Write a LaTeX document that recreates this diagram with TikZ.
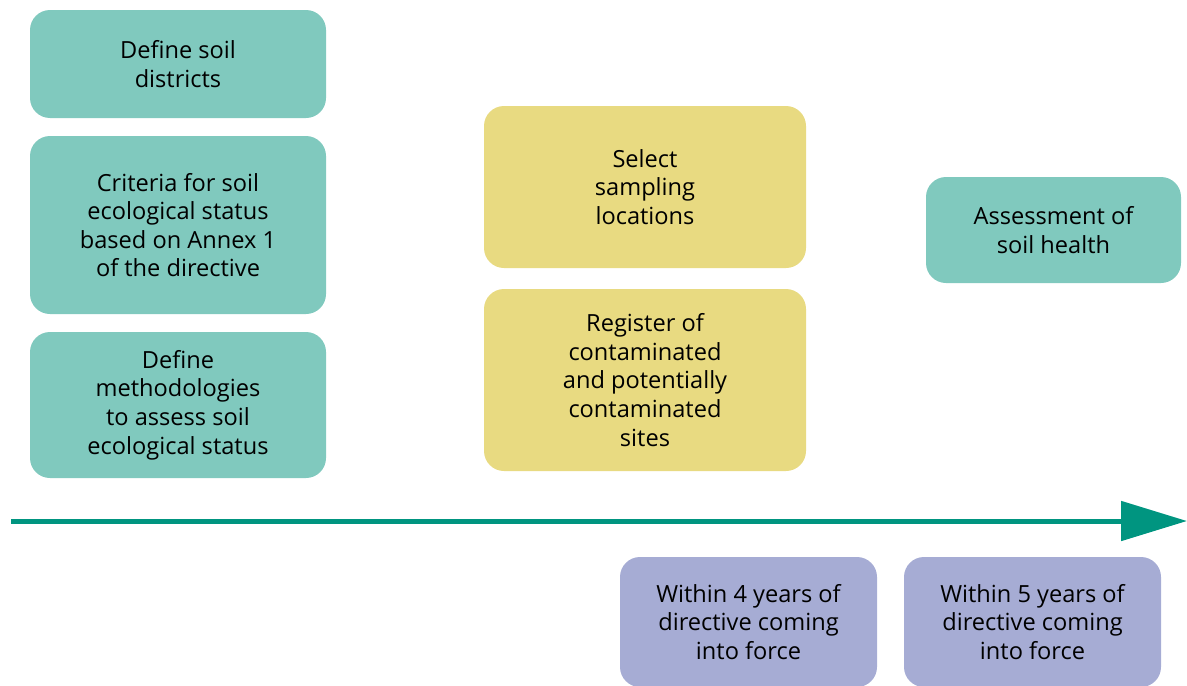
\documentclass[tikz,border=0pt]{standalone}
\usepackage{fontspec}
\setmainfont{Open Sans}
\usetikzlibrary{arrows.meta}
\definecolor{tealbox}{HTML}{80C9BE}
\definecolor{yellowbox}{HTML}{E8DA81}
\definecolor{lilacbox}{HTML}{A6ACD4}
\definecolor{timeline}{HTML}{009580}

\begin{document}
\begin{tikzpicture}[x=0.5pt,y=-0.5pt]
            \tikzset{
                stage/.style={rectangle,rounded corners=10pt,align=center,inner sep=0pt,
                    font=\fontsize{11.8}{14.3}\selectfont,text=black},
                soilbox/.style={stage,fill=tealbox},
                sitebox/.style={stage,fill=yellowbox},
                timebox/.style={stage,fill=lilacbox},}
            \useasboundingbox (0,0) rectangle (1187,685);
            \node[soilbox,minimum width=148pt,minimum height=54pt] (districts) at (178,64) {Define soil\\districts};
            \node[soilbox,minimum width=148pt,minimum height=89pt] (criteria) at (178,225) {Criteria for soil\\ecological status\\based on Annex 1\\of the directive};
            \node[soilbox,minimum width=148pt,minimum height=73pt] (methods) at (178,405) {Define\\methodologies\\to assess soil\\ecological status};
            \node[sitebox,minimum width=161pt,minimum height=81pt] (sampling) at (645,187) {Select\\sampling\\locations};
            \node[sitebox,minimum width=161pt,minimum height=91pt] (register) at (645,380) {Register of\\contaminated\\and potentially\\contaminated\\sites};
            \node[soilbox,minimum width=127.5pt,minimum height=53pt] (health) at (1053.5,230) {Assessment of\\soil health};
            \node[timebox,minimum width=128.5pt,minimum height=65pt] (fouryears) at (748.5,622) {Within 4 years of\\directive coming\\into force};
            \node[timebox,minimum width=128.5pt,minimum height=65pt] (fiveyears) at (1032.5,622) {Within 5 years of\\directive coming\\into force};
            % time axis
            \coordinate (start) at (11,521);
            \coordinate (stop) at (1187,521);
            \draw[timeline,line width=2.5pt,-{Triangle[length=33pt,width=19.5pt]}] (start) -- (stop);
        \end{tikzpicture}
\end{document}
